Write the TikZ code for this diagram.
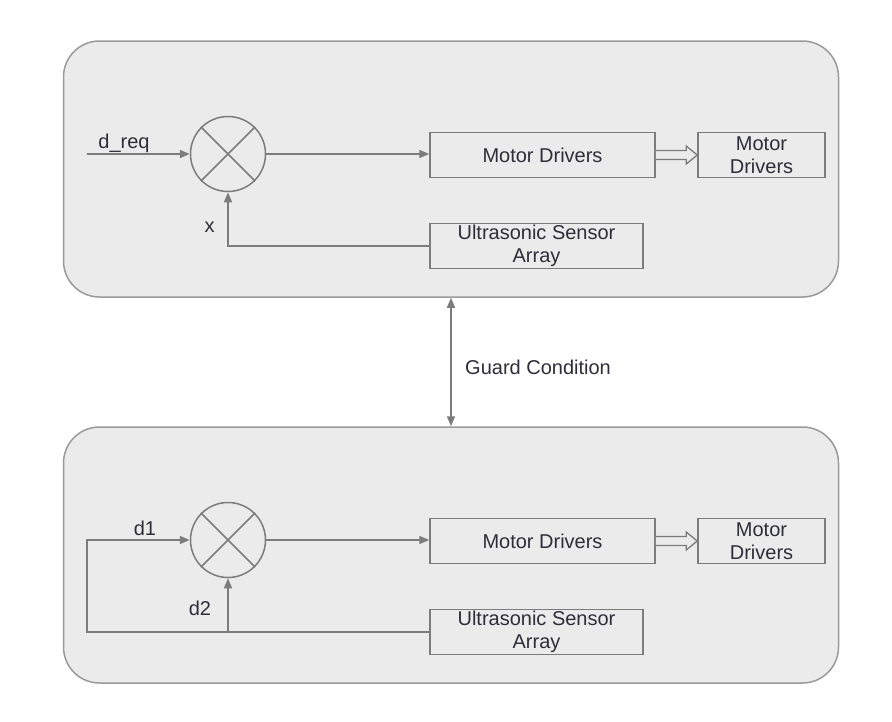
\documentclass[tikz,border=0pt]{standalone}
\usepackage{fontspec}
\setmainfont{Liberation Sans}
\usetikzlibrary{arrows.meta,calc}
\definecolor{cfill}{HTML}{EBEBEB}
\definecolor{cborder}{HTML}{9A9A9A}
\definecolor{lcol}{HTML}{7C7C7C}
\definecolor{tcol}{HTML}{2E2E38}
\tikzset{
  container/.style={draw=cborder, line width=1.5pt, fill=cfill, rounded corners=36pt, minimum width=775pt, minimum height=256pt, inner sep=0pt},
  blockbox/.style={draw=lcol, line width=1.5pt, minimum height=45pt, inner sep=0pt, align=center, text=tcol, font=\fontsize{20}{23}\selectfont},
  sumnode/.style={draw=lcol, line width=1.5pt, circle, minimum size=75pt, inner sep=0pt},
  conn/.style={draw=lcol, line width=1.5pt, -{Triangle[length=10pt,width=8pt]}},
  biconn/.style={draw=lcol, line width=1.5pt, {Triangle[length=10pt,width=8pt]}-{Triangle[length=10pt,width=8pt]}},
  lbl/.style={text=tcol, font=\fontsize{20}{23}\selectfont, inner sep=0pt},
  hollow/.style={draw=lcol, line width=1.3pt, fill=cfill, line join=miter}
}
\begin{document}
\begin{tikzpicture}[x=1pt,y=-1pt]
\useasboundingbox (0,0) rectangle (892,721);
\fill[white] (0,0) rectangle (892,721);

% containers
\node[container] (top) at (451,169) {};
\node[container] (bot) at (451,555) {};

% ---------- top group ----------
\node[sumnode] (s1) at (228,154) {};
\draw[lcol, line width=1.5pt] (s1.45) -- (s1.225) (s1.135) -- (s1.315);
\node[blockbox, minimum width=225pt] (md1a) at (542.5,155) {Motor Drivers};
\node[blockbox, minimum width=127pt] (md2a) at (761.5,155) {Motor\\Drivers};
\node[blockbox, minimum width=213pt] (usa) at (536.5,246) {Ultrasonic Sensor\\Array};
\coordinate (ina) at (87,154);
\draw[conn] (ina) -- (s1.west);
\node[lbl] (dreq) at (124,143) {d\_req};
\draw[conn] (s1.east) -- (s1.east -| md1a.west);
\draw[hollow] ([yshift=-4.5pt]md1a.east) -- ([xshift=-11pt,yshift=-4.5pt]md2a.west) -- ([xshift=-11pt,yshift=-9pt]md2a.west) -- (md2a.west) -- ([xshift=-11pt,yshift=9pt]md2a.west) -- ([xshift=-11pt,yshift=4.5pt]md2a.west) -- ([yshift=4.5pt]md1a.east);
\draw[conn] (usa.west) -| (s1.south);
\node[lbl] (xl) at (209.5,227) {x};

% ---------- guard ----------
\draw[biconn] (top.south) -- (bot.north);
\node[lbl, anchor=west] (guard) at (465,367) {Guard Condition};

% ---------- bottom group ----------
\node[sumnode] (s2) at (228,540) {};
\draw[lcol, line width=1.5pt] (s2.45) -- (s2.225) (s2.135) -- (s2.315);
\node[blockbox, minimum width=225pt] (md1b) at (542.5,541) {Motor Drivers};
\node[blockbox, minimum width=127pt] (md2b) at (761.5,541) {Motor\\Drivers};
\node[blockbox, minimum width=213pt] (usb) at (536.5,632) {Ultrasonic Sensor\\Array};
\draw[conn] (s2.east) -- (s2.east -| md1b.west);
\draw[hollow] ([yshift=-4.5pt]md1b.east) -- ([xshift=-11pt,yshift=-4.5pt]md2b.west) -- ([xshift=-11pt,yshift=-9pt]md2b.west) -- (md2b.west) -- ([xshift=-11pt,yshift=9pt]md2b.west) -- ([xshift=-11pt,yshift=4.5pt]md2b.west) -- ([yshift=4.5pt]md1b.east);
\coordinate (cl) at (87,632);
\draw[conn] (usb.west) -- (usb.west -| cl) |- (s2.west);
\draw[conn] (s2.south |- usb.west) -- (s2.south);
\node[lbl] (d1) at (145,528) {d1};
\node[lbl] (d2) at (200,608) {d2};
\end{tikzpicture}
\end{document}
